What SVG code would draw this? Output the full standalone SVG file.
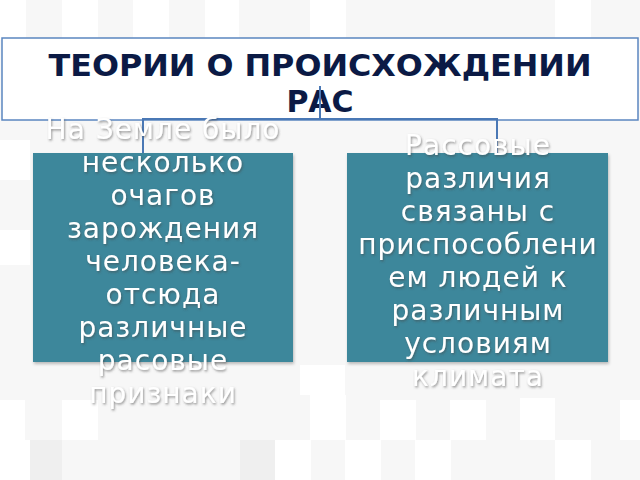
<svg xmlns="http://www.w3.org/2000/svg" width="640" height="480" viewBox="0 0 640 480">
<style>
.tile{fill:#ffffff}
.tile2{fill:#efefef}
.title{font-family:"DejaVu Sans","Liberation Sans",sans-serif;font-weight:bold;font-size:30px;fill:#0b1a45;text-anchor:middle}
.body{font-family:"DejaVu Sans","Liberation Sans",sans-serif;font-size:28px;fill:#ffffff;text-anchor:middle;letter-spacing:1px}
.box{fill:#3d879b}
.conn{fill:none;stroke:#4a78b5;stroke-width:2}
</style>
<defs>
<filter id="sh" x="-10%" y="-10%" width="120%" height="130%">
<feDropShadow dx="1" dy="1.5" stdDeviation="0.8" flood-color="#444" flood-opacity="0.55"/>
</filter>
<filter id="bs" x="-5%" y="-5%" width="110%" height="115%">
<feDropShadow dx="1" dy="2" stdDeviation="1.5" flood-color="#000" flood-opacity="0.25"/>
</filter>
</defs>
<rect x="0" y="0" width="640" height="480" fill="#f7f7f7"/>
<g id="background">
<rect class="tile" x="0" y="0" width="26" height="40"/>
<rect class="tile" x="62" y="0" width="36" height="40"/>
<rect class="tile" x="133" y="0" width="36" height="40"/>
<rect class="tile" x="205" y="0" width="34" height="40"/>
<rect class="tile" x="310" y="0" width="36" height="40"/>
<rect class="tile" x="555" y="0" width="36" height="40"/>
<rect class="tile" x="0" y="140" width="30" height="40"/>
<rect class="tile" x="0" y="230" width="30" height="35"/>
<rect class="tile" x="300" y="365" width="45" height="30"/>
<rect class="tile" x="0" y="400" width="25" height="40"/>
<rect class="tile" x="62" y="400" width="36" height="40"/>
<rect class="tile" x="310" y="395" width="36" height="45"/>
<rect class="tile" x="380" y="400" width="36" height="40"/>
<rect class="tile" x="450" y="400" width="36" height="40"/>
<rect class="tile" x="520" y="398" width="35" height="42"/>
<rect class="tile" x="0" y="440" width="36" height="40"/>
<rect class="tile" x="275" y="440" width="36" height="40"/>
<rect class="tile" x="345" y="440" width="36" height="40"/>
<rect class="tile" x="415" y="440" width="36" height="40"/>
<rect class="tile" x="555" y="440" width="36" height="40"/>
<rect class="tile" x="620" y="400" width="20" height="40"/>
<rect class="tile2" x="30" y="440" width="32" height="40"/>
<rect class="tile2" x="240" y="440" width="35" height="40"/>
</g>
<g id="title">
<rect x="2" y="38" width="636" height="82" fill="#ffffff" stroke="#5b86c0" stroke-width="1.5"/>
<text class="title" x="320" y="76" textLength="543" lengthAdjust="spacingAndGlyphs">ТЕОРИИ О ПРОИСХОЖДЕНИИ</text>
<text class="title" x="320" y="112">РАС</text>
</g>
<g id="connectors">
<path class="conn" d="M320 86 V119 M143 119 H497 M143 118 V153 M497 118 V153"/>
</g>
<g id="node-left">
<rect class="box" x="33" y="153" width="260" height="209" filter="url(#bs)"/>
<g filter="url(#sh)">
<text class="body" x="163" y="139">На Земле было</text>
<text class="body" x="163" y="172">несколько</text>
<text class="body" x="163" y="205">очагов</text>
<text class="body" x="163" y="238">зарождения</text>
<text class="body" x="163" y="271">человека-</text>
<text class="body" x="163" y="304">отсюда</text>
<text class="body" x="163" y="337">различные</text>
<text class="body" x="163" y="370">расовые</text>
<text class="body" x="163" y="403">признаки</text>
</g>
</g>
<g id="node-right">
<rect class="box" x="347" y="153" width="261" height="209" filter="url(#bs)"/>
<g filter="url(#sh)">
<text class="body" x="478" y="155">Рассовые</text>
<text class="body" x="478" y="188">различия</text>
<text class="body" x="478" y="221">связаны с</text>
<text class="body" x="478" y="254">приспособлени</text>
<text class="body" x="478" y="287">ем людей к</text>
<text class="body" x="478" y="320">различным</text>
<text class="body" x="478" y="353">условиям</text>
<text class="body" x="478" y="386">климата</text>
</g>
</g>
</svg>
